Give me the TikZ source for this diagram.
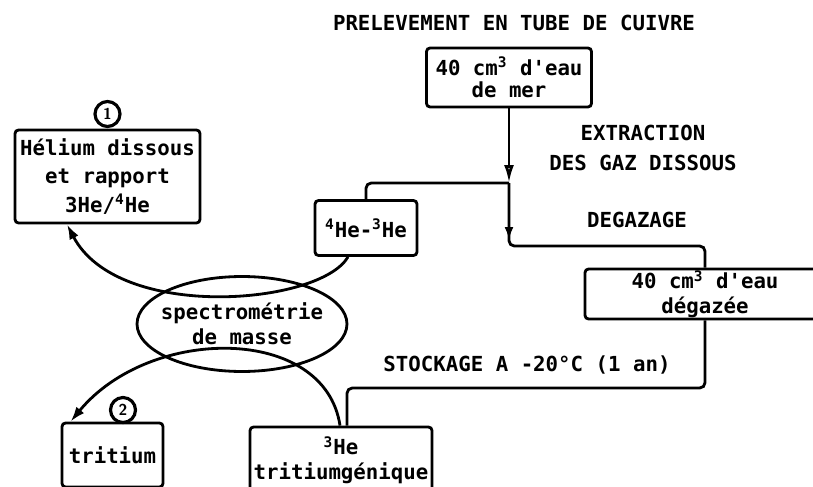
\documentclass[tikz,border=0pt]{standalone}
\usepackage{fontspec}
\setmonofont{DejaVu Sans Mono}
\usepackage{tikz}
\usetikzlibrary{arrows.meta,positioning,shapes.geometric,calc}
\newcommand{\diagfont}{\ttfamily\bfseries\fontsize{11.8}{14}\selectfont}
\tikzset{
  stepbox/.style={
    rectangle, draw=black, line width=1.6pt, rounded corners=2pt,
    font=\diagfont, align=center, inner sep=0pt
  },
  bulle/.style={
    ellipse, draw=black, line width=1.6pt, inner sep=0pt
  },
  flow/.style={
    line width=1.6pt, color=black, rounded corners=3pt
  },
  arc/.style={
    line width=1.6pt, color=black
  },
  repere/.style={
    circle, draw=black, line width=1.8pt, minimum size=0.5cm,
    inner sep=0pt, font=\sffamily\bfseries\small
  },
  labelnode/.style={
    font=\diagfont, align=center
  },
}
\begin{document}
\begin{tikzpicture}[x=0.02cm, y=-0.02cm]
\useasboundingbox (0,0) rectangle (813,486);
\clip (0,0) rectangle (813,486);

% ── Sampling and degassing ──
\node[labelnode] (titre) at (514,23) {PRELEVEMENT EN TUBE DE CUIVRE};
\node[stepbox, minimum width=3.3cm, minimum height=1.18cm] (mer) at (509,77.5)
  {40 cm\textsuperscript{3} d'eau\\[-1pt]de mer};
\node[labelnode] (extract) at (643,148) {EXTRACTION\\[3pt]DES GAZ DISSOUS};
\node[labelnode] (degazage) at (637,220) {DEGAZAGE};
\node[stepbox, minimum width=4.8cm, minimum height=1.0cm] (degaz) at (705,294)
  {40 cm\textsuperscript{3} d'eau\\dégazée};
\node[labelnode] (stockage) at (527,365) {STOCKAGE A -20°C (1 an)};

% ── Measured quantities ──
\node[stepbox, minimum width=2.04cm, minimum height=1.1cm] (hefour) at (366,228)
  {\textsuperscript{4}He-\textsuperscript{3}He};
\node[stepbox, minimum width=3.7cm, minimum height=1.86cm] (helium) at (107.5,176.5)
  {Hélium dissous\\[2pt]et rapport\\[2pt]3He/\textsuperscript{4}He};
\node[repere] (un) at (107.5,114) {1};
\node[bulle, minimum width=4.2cm, minimum height=1.9cm] (spectro) at (242,324) {};
\node[labelnode] (spectrotxt) at (spectro.center) {spectrométrie\\de masse};
\node[stepbox, minimum width=2.02cm, minimum height=1.28cm] (tritium) at (112.5,455)
  {tritium};
\node[repere] (deux) at (123,410) {2};
\node[stepbox, minimum width=3.64cm, minimum height=1.32cm] (tritgen) at (341,460)
  {\textsuperscript{3}He\\tritiumgénique};

% Gas extraction line
\coordinate (jn) at (509,183);
\coordinate (tipb) at (509,240);
\coordinate (bend) at (509,246);
\draw[flow, -{Latex[open, length=0.36cm, width=0.2cm]}] (mer.south) -- (jn);
\draw[flow] (jn) -| (hefour.north);
\draw[flow, -{Latex[length=0.26cm, width=0.18cm]}] (jn) -- (tipb);
\draw[flow] (jn) -- (bend) -| (degaz.north);

% Storage line
\coordinate (stk) at (347,388);
\draw[flow] (degaz.south) |- (stk) -- (stk |- tritgen.north);

% Mass spectrometry arcs
\draw[arc, -{Latex[length=0.3cm, width=0.2cm]}] ([xshift=-0.36cm]hefour.south)
  .. controls (320,305) and (118,322) .. ([xshift=-0.81cm]helium.south);
\draw[arc, -{Latex[length=0.3cm, width=0.2cm]}] ([xshift=-0.02cm]tritgen.north)
  .. controls (325,325) and (150,325) .. ([xshift=0.2cm]tritium.north west);

\end{tikzpicture}
\end{document}
